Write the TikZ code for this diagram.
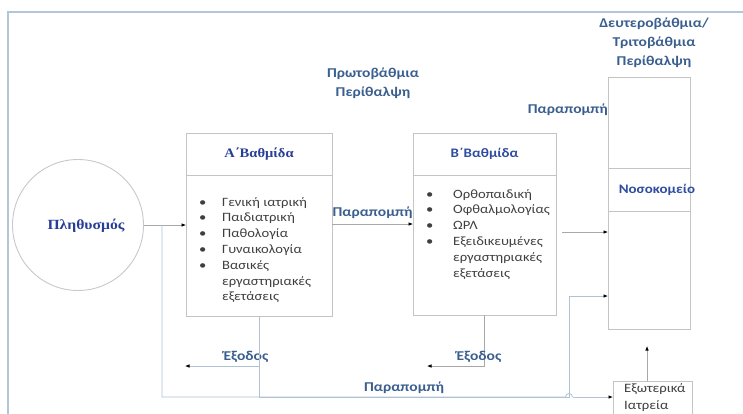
\documentclass[tikz,border=0pt]{standalone}
\usepackage{fontspec}
\setmainfont[FakeStretch=1.15]{Carlito}
\newfontfamily\grserif[FakeStretch=1.12]{Liberation Serif}
\usetikzlibrary{arrows.meta}

\definecolor{frameblue}{HTML}{B3C6D9}
\definecolor{boxgray}{HTML}{C4C4C4}
\definecolor{circgray}{HTML}{CBC6CE}
\definecolor{linegray}{HTML}{A8A8A8}
\definecolor{pathblue}{HTML}{AFC2D6}
\definecolor{labelblue}{HTML}{3A5F8F}
\definecolor{headblue}{HTML}{2E4DA0}
\definecolor{serifblue}{HTML}{283E96}
\definecolor{listgray}{HTML}{3F3F3F}

\begin{document}
\begin{tikzpicture}[x=1pt,y=-1pt,
  frame/.style={draw=frameblue,line width=1.1pt},
  box/.style={draw=boxgray,line width=0.9pt,inner sep=0pt,outer sep=0pt},
  circ/.style={circle,draw=circgray,line width=0.9pt,minimum size=131pt,inner sep=0pt,outer sep=0pt},
  conn/.style={draw=linegray,line width=0.7pt},
  bpath/.style={draw=pathblue,line width=0.8pt},
  tip/.style={-{Latex[length=4.5pt,width=3.6pt,color=black]}},
  lbl/.style={font=\fontsize{13.5}{19}\selectfont\bfseries,text=labelblue,align=center,inner sep=0pt},
  head/.style={font=\fontsize{13}{16}\selectfont\bfseries,text=headblue},
  shead/.style={font=\grserif\fontsize{13}{16}\selectfont\bfseries,text=serifblue},
  listtxt/.style={font=\fontsize{12.7}{15.8}\selectfont,text=listgray,align=left,inner sep=0pt,anchor=north west}
]
\useasboundingbox (0,0) rectangle (743,413);
\clip (0,0) rectangle (743,413);

% outer frame (runs past the page edge)
\draw[frame] (8,12) rectangle (780,440);

% population
\node[circ] (pop) at (78,225) {};
\node[shead,font=\grserif\fontsize{14}{16}\selectfont\bfseries,inner sep=0pt] (popl) at (86,226) {Πληθυσμός};

% first level
\node[box,anchor=north west,minimum width=146pt,minimum height=183pt] (A) at (186,133) {};
\node[box,anchor=north west,minimum width=146pt,minimum height=42pt,shead] (Ah) at (186,133) {Α΄Βαθμίδα};
\node[listtxt] (Al) at (197,197) {%
  \makebox[25pt][l]{\hspace{2pt}•}Γενική ιατρική\\
  \makebox[25pt][l]{\hspace{2pt}•}Παιδιατρική\\
  \makebox[25pt][l]{\hspace{2pt}•}Παθολογία\\
  \makebox[25pt][l]{\hspace{2pt}•}Γυναικολογία\\
  \makebox[25pt][l]{\hspace{2pt}•}Βασικές\\
  \hspace*{25pt}εργαστηριακές\\
  \hspace*{25pt}εξετάσεις};

% second level
\node[box,anchor=north west,minimum width=143pt,minimum height=182pt] (B) at (413,133) {};
\node[box,anchor=north west,minimum width=143pt,minimum height=42pt,head] (Bh) at (413,133) {Β΄Βαθμίδα};
\node[listtxt] (Bl) at (424,189) {%
  \makebox[29pt][l]{\hspace{2pt}•}Ορθοπαιδική\\
  \makebox[29pt][l]{\hspace{2pt}•}Οφθαλμολογίας\\
  \makebox[29pt][l]{\hspace{2pt}•}ΩΡΛ\\
  \makebox[29pt][l]{\hspace{2pt}•}Εξειδικευμένες\\
  \hspace*{29pt}εργαστηριακές\\
  \hspace*{29pt}εξετάσεις};

% hospital
\node[box,anchor=north west,minimum width=82pt,minimum height=91pt] (Ht) at (608,77) {};
\node[box,anchor=north west,minimum width=82pt,minimum height=43pt] (Hm) at (608,168) {};
\node[head,inner sep=0pt] (Hlbl) at (657,190) {Νοσοκομείο};
\node[box,anchor=north west,minimum width=82pt,minimum height=118pt] (Hb) at (608,211) {};

% outpatient clinics
\node[box,anchor=north west,minimum width=79pt,minimum height=45pt] (Ext) at (613,381) {};
\node[font=\fontsize{12.8}{17}\selectfont,text=listgray,align=left,inner sep=0pt,anchor=north west] (Extl) at (624,383) {Εξωτερικά\\Ιατρεία};

% headings
\node[lbl] (t1) at (373,83) {Πρωτοβάθμια\\Περίθαλψη};
\node[lbl] (t2) at (654,43) {Δευτεροβάθμια/\\Τριτοβάθμια\\Περίθαλψη};

% helper coordinates
\coordinate (j1) at (162,225);
\coordinate (yb) at (0,397);
\coordinate (yx) at (0,366);
\coordinate (hop) at (569,397);
\coordinate (up) at (569,296);

% connectors
\draw[conn,tip] (pop.east) -- (pop.east -| A.west);
\draw[conn,tip] (A.east |- 0,224) -- node[lbl,above=5pt] {Παραπομπή} (B.west |- 0,224);
\draw[conn,tip,shorten <=6pt] (B.east |- 0,232) -- (Hb.west |- 0,232);
\node[lbl,anchor=east] (p2) at (Ht.west |- 0,110) {Παραπομπή};

% exits
\draw[conn,draw=pathblue,tip] (A.south |- yx) -- (185,366);
\node[lbl] (e1) at (246,357) {Έξοδος};
\draw[conn,tip] (B.south) -- (B.south |- yx) -- (427,366);
\node[lbl] (e2) at (479,357) {Έξοδος};

% referral paths along the bottom
\draw[bpath] (A.south) -- (A.south |- yb) -- (hop) -- (up);
\draw[bpath,tip] (up) -- (Hb.west |- up);
\draw[bpath] (j1) -- (j1 |- yb) -- ([xshift=-3.5pt]hop)
  arc[start angle=180,end angle=0,radius=3.5pt];
\draw[bpath,tip] ([xshift=3.5pt]hop) -- (yb -| Ext.west);
\node[lbl] (p3) at (404,388) {Παραπομπή};

% clinics to hospital
\draw[conn,tip] (647,381) -- (647,346);
\end{tikzpicture}
\end{document}
